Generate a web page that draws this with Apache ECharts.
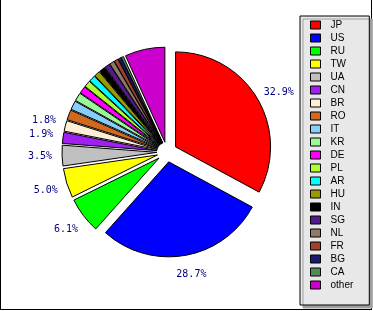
<!DOCTYPE html>
<html><head><meta charset="utf-8">
<script src="https://cdn.jsdelivr.net/npm/echarts@6/dist/echarts.min.js"></script>
<style>html,body{margin:0;padding:0;background:#fff}#c{width:373px;height:311px}</style>
</head><body><div id="c"></div>
<script>
const categories = ['JP','US','RU','TW','UA','CN','BR','RO','IT','KR','DE','PL','AR','HU','IN','SG','NL','FR','BG','CA','other'];
const shares = [32.9,28.7,6.1,5.0,3.5,1.9,1.8,1.7,1.5,1.4,1.2,1.1,1.1,1.0,1.0,0.9,0.8,0.7,0.5,0.4,6.8];
const colors = ['#ff0000','#0000ff','#00ff00','#ffff00','#c0c0c0','#a020f0','#ffefd5','#d2691e','#87cefa','#98fb98','#ff00ff','#adff2f','#00ffff','#999900','#000000','#551a8b','#8f7a68','#a0402d','#191970','#548b54','#cc00cc'];

const labelLineTweaks = { JP: { length: 11, length2: 10 }, US: { length: 19, length2: 1 } };

const data = categories.map((c, i) => {
  const item = { name: c, value: shares[i], selected: true };
  if (c === 'other') item.label = { show: false };
  if (labelLineTweaks[c]) item.labelLine = Object.assign({ show: false }, labelLineTweaks[c]);
  return item;
});

const chart = echarts.init(document.getElementById('c'), null, { renderer: 'canvas' });
chart.setOption({
  animation: false,
  backgroundColor: '#ffffff',
  color: colors,
  legend: {
    orient: 'vertical',
    left: 300, top: 16, height: 295,
    padding: [3, 16, 14, 10],
    itemWidth: 10, itemHeight: 8, itemGap: 1,
    icon: 'rect',
    backgroundColor: '#e8e8e8',
    borderColor: '#000', borderWidth: 1,
    shadowColor: '#a0a0a0', shadowBlur: 0, shadowOffsetX: 3, shadowOffsetY: 3,
    selectedMode: false,
    itemStyle: { borderColor: '#000', borderWidth: 1 },
    textStyle: { fontFamily: 'Liberation Sans', fontSize: 10, color: '#000', lineHeight: 12, padding: [0, 0, 0, 5] },
    data: categories
  },
  graphic: [
    { type: 'line', shape: { x1: 0.5, y1: 0, x2: 0.5, y2: 310 }, style: { stroke: '#000', lineWidth: 1 } },
    { type: 'line', shape: { x1: 371.5, y1: 0, x2: 371.5, y2: 310 }, style: { stroke: '#000', lineWidth: 1 } },
    { type: 'line', shape: { x1: 0, y1: 309.5, x2: 372, y2: 309.5 }, style: { stroke: '#000', lineWidth: 1 } }
  ],
  series: [{
    type: 'pie',
    center: [167, 152],
    radius: [0, 95],
    startAngle: 90,
    clockwise: true,
    selectedMode: 'multiple',
    selectedOffset: 10,
    avoidLabelOverlap: false,
    minShowLabelAngle: 6.2,
    itemStyle: { borderColor: '#000', borderWidth: 1 },
    emphasis: { disabled: true },
    select: { itemStyle: { borderColor: '#000', borderWidth: 1 } },
    label: {
      show: true, position: 'outside',
      formatter: p => p.value.toFixed(1) + '%',
      fontFamily: 'DejaVu Sans Mono', fontSize: 10, color: '#000080',
      distanceToLabelLine: -13
    },
    labelLine: { show: false, length: 23, length2: 0 },
    data: data
  }]
});
</script></body></html>
